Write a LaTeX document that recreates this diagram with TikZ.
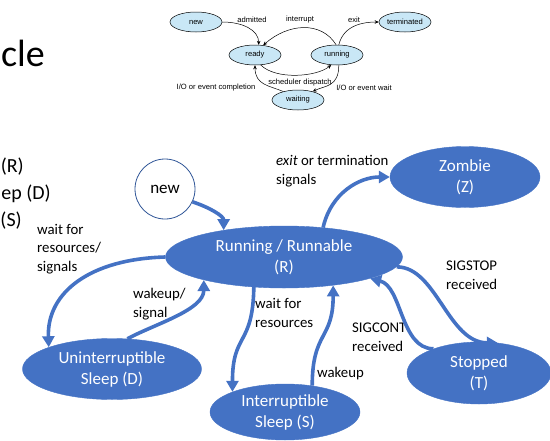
\documentclass[tikz,border=0pt]{standalone}
\usepackage{fontspec}
\setmainfont{Carlito}
\newfontfamily\osfont{Liberation Sans}
\usetikzlibrary{
  arrows.meta,
  shapes.geometric,
  positioning
}
\definecolor{psBlue}{HTML}{4472C4}
\definecolor{psEdge}{HTML}{2F5597}
\definecolor{osFill}{HTML}{C9E7F6}
\tikzset{
  psstate/.style={
    ellipse, fill=psBlue, draw=psBlue, text=white, align=center,
    inner sep=0pt, font=\fontsize{17}{21}\selectfont
  },
  psnew/.style={circle, draw=psEdge, line width=0.8pt, fill=white, minimum size=60pt,
    inner sep=0pt, font=\fontsize{17}{21}\selectfont},
  pstrans/.style={-{Triangle[length=11pt,width=12pt]}, line width=3.6pt, psBlue},
  pstag/.style={anchor=west, align=left, inner sep=0pt, font=\fontsize{14.8}{18.5}\selectfont},
  pstitle/.style={anchor=base east, inner sep=0pt},
  osstate/.style={ellipse, draw=black, line width=0.5pt, fill=osFill, minimum width=52pt,
    minimum height=20pt, inner sep=0pt, font=\osfont\fontsize{7.6}{9}\selectfont},
  ostrans/.style={-{Stealth[length=4pt,width=3.5pt]}, line width=0.5pt},
  ostag/.style={inner sep=0pt, font=\osfont\fontsize{7.6}{9}\selectfont}
}
\begin{document}
\begin{tikzpicture}[x=1pt,y=-1pt]
  \useasboundingbox (0,0) rectangle (550,440);
  % slide text cut off at the left
  \node[pstitle, font=\fontsize{38}{44}\selectfont] (title) at (45,66) {cle};
  \node[pstitle, font=\fontsize{20}{24}\selectfont] (listr) at (24,172) {(R)};
  \node[pstitle, font=\fontsize{20}{24}\selectfont] (listd) at (51,199) {ep (D)};
  \node[pstitle, font=\fontsize{20}{24}\selectfont] (lists) at (22,226) {(S)};

  % textbook picture
  \node[osstate] (onew) at (196,22) {new};
  \node[osstate] (oterm) at (405,22) {terminated};
  \node[osstate] (oready) at (255,55) {ready};
  \node[osstate] (orun) at (337,55) {running};
  \node[osstate] (owait) at (298,100) {waiting};
  \node[ostag] (oadm) at (252,20) {admitted};
  \node[ostag] (oint) at (300,20) {interrupt};
  \node[ostag] (oexit) at (354,20) {exit};
  \node[ostag] (odisp) at (300,83) {scheduler dispatch};
  \node[ostag] (odone) at (216,88) {I/O or event completion};
  \node[ostag] (oiow) at (364,88) {I/O or event wait};
  \draw[ostrans] (onew.east) .. controls +(20,0) and +(0,-15) .. (oready.70);
  \draw[ostrans] (orun.95) .. controls +(-15,-24) and +(25,-22) .. (oready.50);
  \draw[ostrans] (orun.80) .. controls +(5,-20) and +(-15,0) .. (oterm.west);
  \draw[ostrans] (oready.-60) .. controls +(15,15) and +(-15,12) .. (orun.-120);
  \draw[ostrans] (orun.-80) .. controls +(0,22) and +(12,-6) .. (owait.30);
  \draw[ostrans] (owait.150) .. controls +(-14,-6) and +(0,20) .. (oready.-90);

  % linux states
  \node[psnew] (new) at (165,189) {new};
  \node[psstate, minimum width=237pt, minimum height=62pt] (run) at (284,257) {Running / Runnable\\(R)};
  \node[psstate, minimum width=150pt, minimum height=61pt] (zombie) at (465,177) {Zombie\\(Z)};
  \node[psstate, minimum width=179pt, minimum height=61pt] (dsleep) at (112,369) {Uninterruptible\\Sleep (D)};
  \node[psstate, minimum width=150pt, minimum height=56pt] (ssleep) at (285,412) {Interruptible\\Sleep (S)};
  \node[psstate, minimum width=144pt, minimum height=62pt] (stopped) at (479,373) {Stopped\\(T)};

  \node[pstag] (texit) at (276,171) {\textit{exit} or termination\\signals};
  \node[pstag] (twaitd) at (37,249) {wait for\\resources/\\signals};
  \node[pstag] (twaked) at (133,304) {wakeup/\\signal};
  \node[pstag] (twaits) at (255,313) {wait for\\resources};
  \node[pstag] (tstop) at (446,275) {SIGSTOP\\received};
  \node[pstag] (tcont) at (352,337) {SIGCONT\\received};
  \node[pstag] (twakes) at (317,374) {wakeup};

  \draw[pstrans] (new.-25) .. controls +(18,6) and +(0,-14) .. (run.156);
  \draw[pstrans] (run.37) .. controls +(8,-35) and +(-30,0) .. (zombie.west);
  \draw[pstrans] (run.west) .. controls +(-75,2) and +(-2,-55) .. (dsleep.161);
  \draw[pstrans] (dsleep.63) .. controls +(28,-15) and +(0,30) .. (run.196);
  \draw[pstrans] (run.225) .. controls +(-1,60) and +(0,-60) .. (ssleep.159);
  \draw[pstrans] (ssleep.44) .. controls +(0,-55) and +(0,55) .. (run.330);
  \draw[pstrans] (run.355) .. controls +(40,0) and +(-50,0) .. (stopped.58);
  \draw[pstrans] (stopped.152) .. controls +(-33,0) and +(32,8) .. (run.346);
\end{tikzpicture}
\end{document}
